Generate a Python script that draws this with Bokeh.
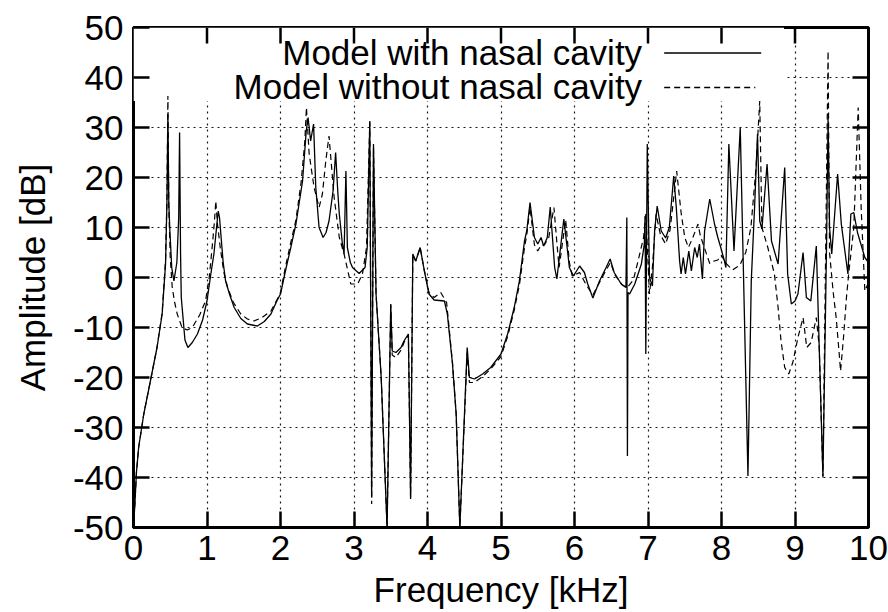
from bokeh.plotting import figure
from bokeh.models import FixedTicker, BoxAnnotation, Label, Arrow, Range1d
from bokeh.embed import file_html
from bokeh.resources import INLINE

# ---------------- data ----------------
freq_with = [0.0, 0.02, 0.04, 0.07, 0.14, 0.23, 0.32, 0.39, 0.436, 0.455, 0.468, 0.48, 0.495, 0.52, 0.55,
             0.59, 0.615, 0.627, 0.64, 0.65, 0.70, 0.74, 0.80, 0.87, 0.94, 1.0, 1.05, 1.094, 1.13, 1.153,
             1.17, 1.185, 1.22, 1.253, 1.31, 1.37, 1.46, 1.55, 1.685, 1.78, 1.87, 1.95, 2.0, 2.07, 2.14,
             2.21, 2.3, 2.35, 2.375, 2.41, 2.45, 2.48, 2.525, 2.58, 2.62, 2.66, 2.715, 2.75, 2.78, 2.8,
             2.84, 2.865, 2.89, 2.91, 2.95, 2.98, 3.07, 3.15, 3.18, 3.215, 3.24, 3.265, 3.30, 3.37, 3.45,
             3.50, 3.52, 3.57, 3.64, 3.68, 3.74, 3.77, 3.80, 3.84, 3.9, 3.955, 4.02, 4.09, 4.23, 4.27,
             4.34, 4.39, 4.44, 4.54, 4.57, 4.64, 4.75, 4.86, 5.0, 5.09, 5.18, 5.25, 5.32, 5.35, 5.395,
             5.455, 5.5, 5.545, 5.58, 5.63, 5.67, 5.73, 5.76, 5.855, 5.91, 5.93, 5.985, 6.07, 6.135, 6.18,
             6.25, 6.34, 6.43, 6.485, 6.54, 6.635, 6.70, 6.712, 6.72, 6.728, 6.75, 6.82, 6.91, 6.95, 6.96,
             6.97, 6.99, 7.02, 7.06, 7.09, 7.125, 7.18, 7.24, 7.29, 7.35, 7.385, 7.43, 7.45, 7.48, 7.51,
             7.555, 7.59, 7.635, 7.67, 7.70, 7.74, 7.77, 7.84, 7.905, 7.95, 7.99, 8.04, 8.06, 8.10, 8.17,
             8.255, 8.36, 8.405, 8.45, 8.49, 8.52, 8.55, 8.62, 8.68, 8.77, 8.86, 8.9, 8.95, 9.0, 9.04,
             9.11, 9.155, 9.215, 9.29, 9.38, 9.43, 9.45, 9.47, 9.5, 9.58, 9.63, 9.72, 9.76, 9.80, 9.85,
             9.95, 10.0]
amp_with = [-50, -45, -39, -34, -27.3, -20.7, -14, -7.3, 2.7, 15, 32.7, 15, 9.3, 2, -0.7,
            3, 12, 29, 5, -4, -12.5, -14, -13, -11.3, -8.5, -4.7, 0.5, 4.7, 10, 13.3,
            12, 9.3, 3, -0.7, -3.5, -6, -8.2, -9.3, -9.7, -8.8, -7.3, -4.7, -3.3, 1.5, 6,
            10.7, 19.3, 29.3, 32, 27.3, 30.7, 18, 10, 8, 9, 11.3, 17.3, 25, 17, 12.7,
            7, 4.7, 21.3, 6, 3, 2, 0.8, 2, 6, 31.3, -44, 26.7, -3.3, -20, -50,
            -5.3, -14.7, -15, -14, -12.7, -11.3, -44.3, 4.7, 3.3, 6, 1.5, -3.3, -4.5, -4.7, -7.3,
            -17.3, -27.3, -50, -14, -20, -20.3, -19.3, -18, -15.3, -11.3, -6, -0.7, 7.3, 9.3, 15,
            8, 6.7, 8, 6.3, 8, 14.1, 2, -0.3, 11.7, 4.7, 2, 0.3, 2.3, 1, -1.3,
            -4.1, -0.7, 2, 3.7, 1, -1.3, -2, 12, -35.7, -3, -3.3, -1.3, 2.7, 6.7, 12.3,
            -15.3, 26.7, 0, -1.7, 9.3, 14.3, 9.3, 7.9, 10, 20.3, 14, 3.3, 0.7, 4, 0.7,
            5.3, 1.3, 6, 4, 6.7, -0.3, 9.3, 15.7, 10.7, 8, 6, 3.3, 2, 26.7, 5.3,
            30, -39.7, -0.7, 14, 28.7, 11.3, 9.7, 22.7, 7.3, 2.7, 22, 0.7, -5.3, -4.7, -3.3,
            5, -4, -4.7, 6.3, -39.7, 7.3, 32, 10, 4.7, 20.7, 10.7, 0.7, 12.7, 13, 9,
            4, 3]

freq_without = [0.0, 0.02, 0.04, 0.07, 0.14, 0.23, 0.32, 0.39, 0.436, 0.455, 0.468, 0.48, 0.50, 0.527, 0.56,
                0.595, 0.66, 0.73, 0.80, 0.90, 0.98, 1.03, 1.07, 1.10, 1.12, 1.14, 1.18, 1.23, 1.28, 1.36,
                1.46, 1.55, 1.64, 1.75, 1.87, 1.95, 2.0, 2.07, 2.14, 2.21, 2.28, 2.33, 2.353, 2.39, 2.457,
                2.525, 2.57, 2.616, 2.66, 2.69, 2.73, 2.80, 2.865, 2.956, 3.05, 3.115, 3.17, 3.215, 3.24, 3.265,
                3.30, 3.37, 3.45, 3.50, 3.52, 3.57, 3.64, 3.68, 3.74, 3.77, 3.80, 3.84, 3.9, 3.955, 4.02,
                4.09, 4.18, 4.26, 4.34, 4.39, 4.44, 4.54, 4.57, 4.64, 4.75, 4.86, 5.0, 5.09, 5.18, 5.25,
                5.32, 5.35, 5.395, 5.455, 5.5, 5.545, 5.59, 5.65, 5.72, 5.76, 5.79, 5.88, 5.93, 5.97, 6.07,
                6.16, 6.25, 6.34, 6.43, 6.49, 6.55, 6.65, 6.72, 6.80, 6.86, 6.94, 6.97, 7.02, 7.06, 7.11,
                7.17, 7.24, 7.30, 7.39, 7.45, 7.5, 7.55, 7.61, 7.68, 7.71, 7.75, 7.84, 7.9, 7.95, 8.0,
                8.05, 8.15, 8.25, 8.33, 8.40, 8.47, 8.52, 8.55, 8.63, 8.72, 8.77, 8.81, 8.86, 8.915, 8.97,
                9.04, 9.11, 9.16, 9.22, 9.29, 9.33, 9.38, 9.45, 9.47, 9.52, 9.56, 9.6, 9.62, 9.66, 9.7,
                9.73, 9.8, 9.86, 9.9, 9.95, 10.0]
amp_without = [-50, -45, -39, -34, -27.3, -20.7, -14, -7, 3.5, 16, 36.3, 14, 4, -2, -5,
               -7.3, -10, -10.5, -10, -7.5, -4.7, 0, 6, 11, 15.3, 11, 6, 1, -2, -5,
               -7.3, -8.3, -8.7, -8, -6.7, -4.5, -3, 2.3, 7, 11.5, 19, 27, 34, 24.7, 18,
               14, 16.7, 23.3, 28.3, 23, 16, 8, 4.7, -1.3, -1.3, 0.7, 6, 31, -45.3, 26,
               -3.3, -20, -50, -5.5, -15.5, -16, -14.5, -13, -11.5, -44, 4.5, 3.3, 6, 1.5, -3,
               -4, -3, -5, -17, -27.3, -50, -15, -21, -21, -19.8, -18.3, -15.8, -11.8, -6.5, -1.5,
               6, 8.5, 14, 6.5, 5.3, 6.5, 6.5, 8, 14, 7, 2, 11.5, 3, 0.3, 1,
               -1.5, -3.5, -1, 1.5, 3, 0.5, -1.5, -2, -0.5, 3, 8, 12.7, -3.3, 2, 12.7,
               8.5, 6.7, 9.5, 21.3, 13, 8, 6, 8, 10.7, 8.5, 6.7, 2.8, 3.3, 3.5, 4.5,
               3, 1.5, 2.5, 5, 10, 22, 35.3, 10, 6, 0.7, -6, -12.7, -18, -19.3, -17,
               -12, -8, -14, -13, -8, -14, -40, 45.3, 5, -3, -8, -15, -18.7, -12, -4,
               0.7, 10, 34, 14, -2.7, -1]

x_ticks = list(range(0, 11))
y_ticks = list(range(-50, 51, 10))
legend_labels = ["Model with nasal cavity", "Model without nasal cavity"]

FONT = "Liberation Sans"
X0, X1, Y0, Y1 = 0, 10, -50, 50
FRAME_W, FRAME_H = 735, 500
TICK_PX = 16

p = figure(frame_width=FRAME_W, frame_height=FRAME_H,
           x_range=Range1d(X0, X1), y_range=Range1d(Y0, Y1),
           output_backend="svg", toolbar_location=None,
           min_border_left=133, min_border_right=20, min_border_top=27, min_border_bottom=85,
           background_fill_color="white", border_fill_color="white")

p.outline_line_color = "black"
p.outline_line_width = 3

for ax in (p.xaxis[0], p.yaxis[0]):
    ax.major_tick_in = TICK_PX
    ax.major_tick_out = 0
    ax.minor_tick_in = 0
    ax.minor_tick_out = 0
    ax.major_tick_line_width = 2.5
    ax.axis_line_color = None
    ax.major_label_text_font = FONT
    ax.major_label_text_font_size = "35px"
    ax.major_label_text_color = "black"
    ax.axis_label_text_font = FONT
    ax.axis_label_text_font_size = "35px"
    ax.axis_label_text_font_style = "normal"
    ax.axis_label_text_color = "black"

p.xaxis.ticker = FixedTicker(ticks=x_ticks)
p.yaxis.ticker = FixedTicker(ticks=y_ticks)
p.xaxis.major_label_overrides = {t: str(t) for t in x_ticks}
p.yaxis.major_label_overrides = {t: str(t) for t in y_ticks}
p.xaxis.axis_label = "Frequency [kHz]"
p.yaxis.axis_label = "Amplitude [dB]"
p.xaxis.major_label_standoff = 8
p.yaxis.major_label_standoff = 10
p.xaxis.axis_label_standoff = 7
p.yaxis.axis_label_standoff = 18

p.xgrid.ticker = FixedTicker(ticks=x_ticks)
p.ygrid.ticker = FixedTicker(ticks=y_ticks)
p.grid.grid_line_color = "black"
p.grid.grid_line_dash = "2 4"
p.grid.grid_line_width = 1.2
p.grid.grid_line_alpha = 0.9

# key area blanks the grid (gnuplot style)
key_box = BoxAnnotation(left=0, right=8.85, bottom=35.3, top=50,
                        fill_color="white", fill_alpha=1.0, line_alpha=0, level="underlay")
p.add_layout(key_box)

# mirrored inward ticks on top and right borders (derived from the tick lists)
dy = TICK_PX * (Y1 - Y0) / FRAME_H
dx = TICK_PX * (X1 - X0) / FRAME_W
inner_x = x_ticks[1:-1]
inner_y = y_ticks[1:-1]
p.segment(x0=inner_x, y0=[Y1] * len(inner_x), x1=inner_x, y1=[Y1 - dy] * len(inner_x),
          line_color="black", line_width=2.5)
p.segment(x0=[X1] * len(inner_y), y0=inner_y, x1=[X1 - dx] * len(inner_y), y1=inner_y,
          line_color="black", line_width=2.5)

# curves
p.line(freq_without, amp_without, line_color="black", line_width=1.2, line_dash="6 4")
p.line(freq_with, amp_with, line_color="black", line_width=1.3)

# key
label_y = [45.1, 38.2]
for txt, yy in zip(legend_labels, label_y):
    p.add_layout(Label(x=6.92, y=yy, text=txt, text_align="right", text_baseline="middle",
                       text_font=FONT, text_font_size="35px", text_color="black"))
p.add_layout(Arrow(end=None, x_start=7.22, y_start=44.9, x_end=8.54, y_end=44.9,
                   line_color="black", line_width=1.3))
p.add_layout(Arrow(end=None, x_start=7.22, y_start=38.0, x_end=8.46, y_end=38.0,
                   line_color="black", line_width=1.3, line_dash="6 4"))

open("out.html", "w").write(file_html(p, INLINE))
